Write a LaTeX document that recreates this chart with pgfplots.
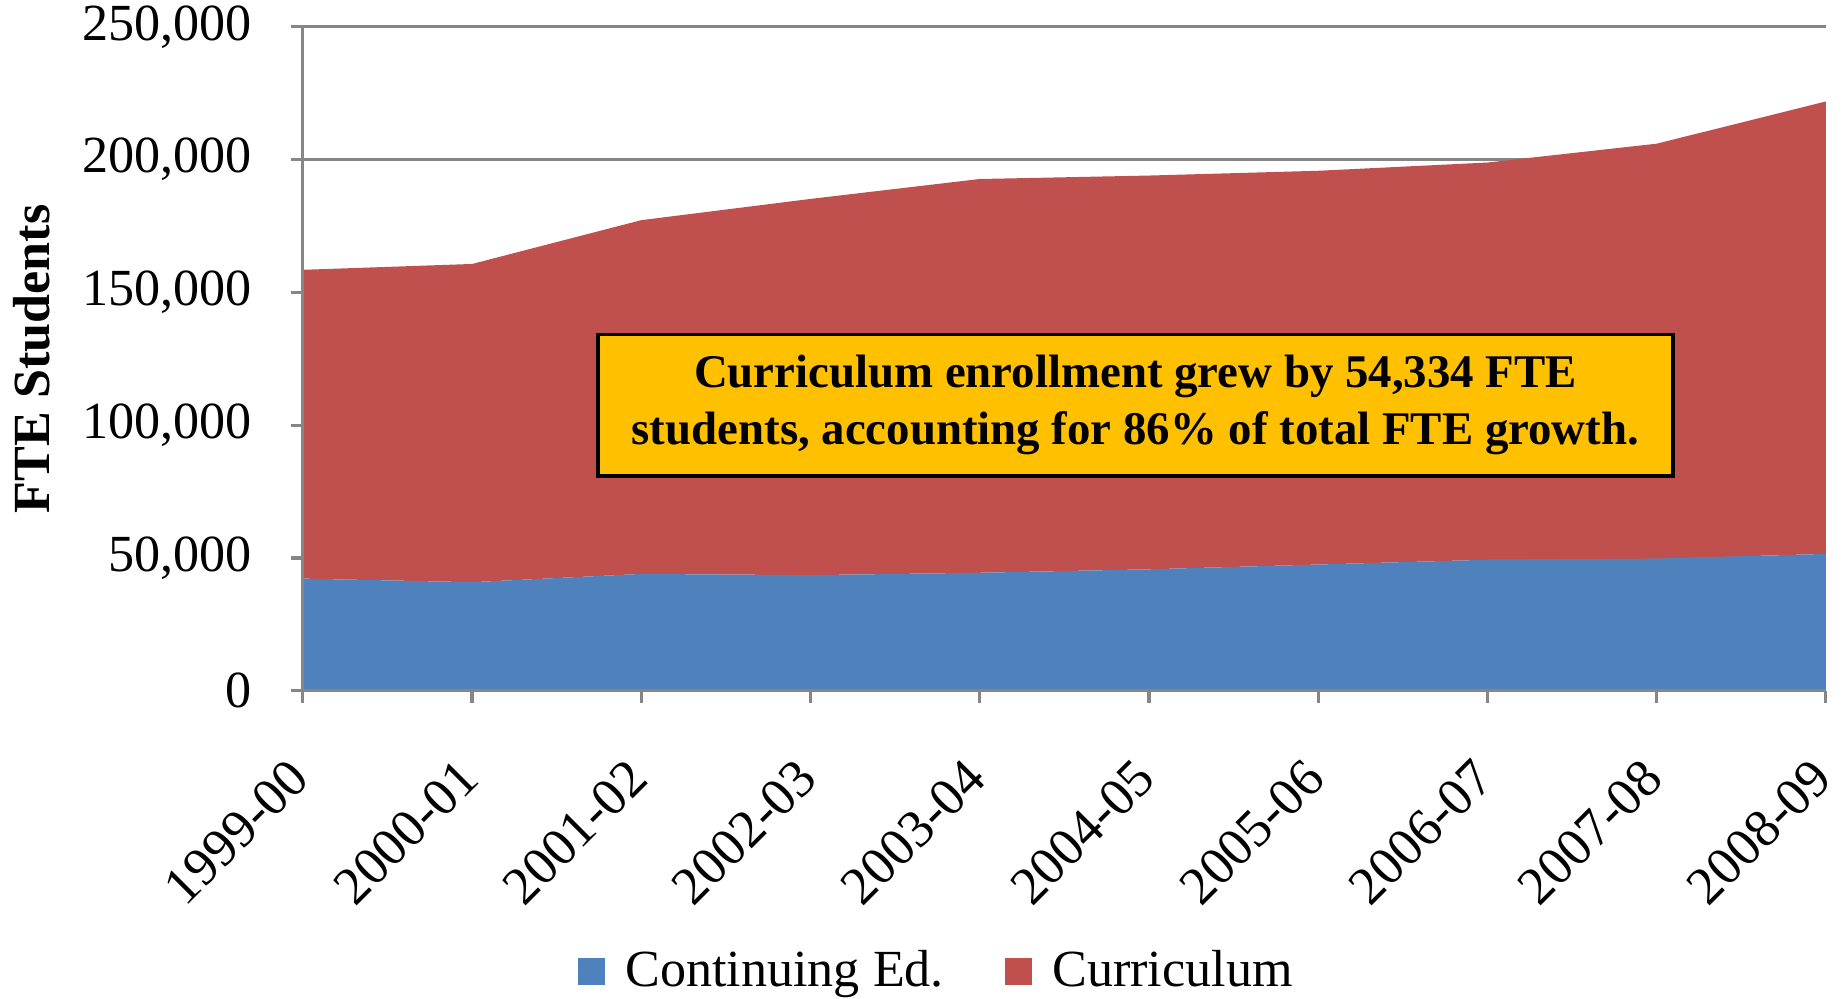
\documentclass[border=0pt]{standalone}
\usepackage{pgfplots}
\pgfplotsset{compat=1.18}
\usepackage{fontspec}
\setmainfont{Liberation Serif}
\definecolor{conted}{HTML}{4F81BD}
\definecolor{curric}{HTML}{C0504D}
\definecolor{note}{HTML}{FFC000}
\definecolor{axgray}{HTML}{868686}
\begin{document}
\begin{tikzpicture}
\begin{axis}[
    scale only axis,
    width=374pt,
    height=163pt,
    xmin=0, xmax=9,
    ymin=0, ymax=250000,
    stack plots=y,
    area style,
    axis on top=false,
    axis x line=bottom,
    axis y line=left,
    axis line style={-, axgray, line width=0.8pt},
    xtick={0,...,9},
    xticklabels={1999-00,2000-01,2001-02,2002-03,2003-04,2004-05,2005-06,2006-07,2007-08,2008-09},
    ytick={0,50000,100000,150000,200000,250000},
    yticklabels={0,{50,000},{100,000},{150,000},{200,000},{250,000}},
    scaled y ticks=false,
    tick align=outside,
    major tick length=3pt,
    tick style={axgray, line width=0.8pt},
    ymajorgrids=true,
    grid style={axgray, line width=0.8pt},
    ticklabel style={font=\fontsize{12.8}{15}\selectfont},
    xticklabel style={xshift=-4pt, yshift=-11.5pt, rotate=45, anchor=north east, inner sep=1pt,
        font=\fontsize{13.1}{15}\selectfont},
    yticklabel style={xshift=-6pt},
    ylabel={\textbf{FTE Students}},
    ylabel style={font=\fontsize{12.8}{15}\selectfont, yshift=1pt},
    legend style={at={(0.418,-0.423)}, anchor=center, draw=none, inner sep=0pt,
        font=\fontsize{12.8}{15}\selectfont, legend columns=2,
        /tikz/every odd column/.append style={column sep=3pt},
        /tikz/every even column/.append style={column sep=13pt}},
    legend image code/.code={\fill[#1] (0pt,-3.3pt) rectangle (6.6pt,3.3pt);},
]
\addplot[fill=conted, draw=none] coordinates {
    (0,42200) (1,40850) (2,43960) (3,43500) (4,44400)
    (5,45700) (6,47500) (7,49300) (8,49700) (9,51500)
} \closedcycle;
\addplot[fill=curric, draw=none] coordinates {
    (0,116300) (1,119850) (2,133240) (3,141700) (4,148300)
    (5,148300) (6,148300) (7,149600) (8,156300) (9,170400)
} \closedcycle;
\legend{Continuing Ed.,Curriculum}
\coordinate (nc) at (axis cs:4.92,107500);
\coordinate (ll) at (rel axis cs:0,0);
\coordinate (ul) at (rel axis cs:0,1);
\coordinate (lr) at (rel axis cs:1,0);
\end{axis}
\draw[axgray, line width=0.8pt] (ul) -- (ll) -- (lr);
\node[draw=black, fill=note, line width=0.8pt, align=center,
      minimum width=264pt, minimum height=34.7pt, inner sep=2pt,
      font=\bfseries\fontsize{11.5}{14}\selectfont]
    at (nc)
    {Curriculum enrollment grew by 54,334 FTE\\students, accounting for 86\% of total FTE growth.};
% page edges as in the reference
\coordinate (bbw) at (current bounding box.west);
\pgfresetboundingbox
\path[use as bounding box] ([yshift=-75.7pt]ll -| bbw) rectangle ([xshift=5.2pt,yshift=6.6pt]lr |- ul);
\end{tikzpicture}
\end{document}
